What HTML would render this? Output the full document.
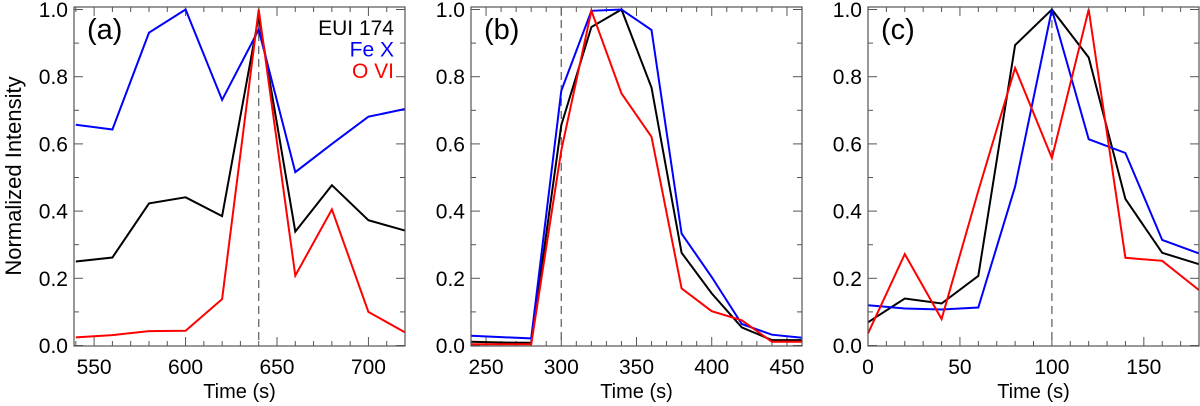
<!DOCTYPE html>
<html><head><meta charset="utf-8"><style>
html,body{margin:0;padding:0;background:#fff;}
svg{display:block;font-family:"Liberation Sans",sans-serif;}
</style></head><body>
<svg id="chart" width="1200" height="406" viewBox="0 0 1200 406">
<text x="0" y="0" transform="translate(21,176) rotate(-90)" text-anchor="middle" font-size="22" fill="#000">Normalized Intensity</text>
</svg>
<script>
const timesA = [540,560,580,600,620,640,660,680,700,720];
const euiA = [0.25,0.262,0.423,0.441,0.385,0.98,0.339,0.477,0.373,0.342];
const fexA = [0.657,0.643,0.931,1.0,0.731,0.94,0.516,0.60,0.681,0.704];
const oviA = [0.024,0.031,0.043,0.044,0.138,1.0,0.208,0.405,0.10,0.039];
const timesB = [240,260,280,300,320,340,360,380,400,420,440,460];
const euiB = [0.011,0.009,0.008,0.656,0.948,1.0,0.768,0.276,0.155,0.054,0.016,0.016];
const fexB = [0.029,0.025,0.021,0.758,0.996,1.0,0.939,0.333,0.204,0.064,0.032,0.023];
const oviB = [0.004,0.004,0.004,0.581,0.996,0.75,0.621,0.17,0.102,0.075,0.011,0.011];
const timesC = [0,20,40,60,80,100,120,140,160,180];
const euiC = [0.069,0.14,0.125,0.207,0.894,1.0,0.857,0.436,0.276,0.242];
const fexC = [0.12,0.11,0.107,0.113,0.473,1.0,0.614,0.573,0.314,0.274];
const oviC = [0.036,0.272,0.079,0.46,0.826,0.558,1.0,0.261,0.252,0.165];
const xTicksA = [550,600,650,700];
const xTicksB = [250,300,350,400,450];
const xTicksC = [0,50,100,150];
const yTicks = [0,0.2,0.4,0.6,0.8,1.0];
const peakTimes = [640,300,100];
const panelLabels = ['(a)','(b)','(c)'];
const legendNames = ['EUI 174','Fe X','O VI'];

const NS='http://www.w3.org/2000/svg';
const svg=document.getElementById('chart');
function mk(tag,attrs,parent){const e=document.createElementNS(NS,tag);for(const k in attrs)e.setAttribute(k,attrs[k]);(parent||svg).appendChild(e);return e;}
const colors=['#000','#0000ff','#ff0000'];
const panels=[
 {x0:74,dom:[539,720],t:timesA,s:[euiA,fexA,oviA],xt:xTicksA,minor:10,name:'a'},
 {x0:471,dom:[240,460],t:timesB,s:[euiB,fexB,oviB],xt:xTicksB,minor:10,name:'b'},
 {x0:868,dom:[0,180],t:timesC,s:[euiC,fexC,oviC],xt:xTicksC,minor:10,name:'c'}
];
const W=331, plotTop=7, plotBot=346;
const yScale=v=>345.5-v*336;
panels.forEach((p,i)=>{
  const xs=v=>p.x0+(v-p.dom[0])/(p.dom[1]-p.dom[0])*W;
  const g=mk('g',{});
  
  
  const tk=mk('g',{stroke:'#555','stroke-width':1},g);
  
  
  for(let v=Math.ceil(p.dom[0]/p.minor)*p.minor; v<=p.dom[1]; v+=p.minor){
    const x=xs(v); const major=p.xt.includes(v); const L=major?9:5;
    mk('line',{x1:x,x2:x,y1:plotBot,y2:plotBot-L},tk); mk('line',{x1:x,x2:x,y1:plotTop,y2:plotTop+L},tk);
  }
  for(let k=0;k<=10;k++){
    const y=yScale(k/10); const L=(k%2===0)?9:5;
    mk('line',{x1:p.x0,x2:p.x0+L,y1:y,y2:y},tk); mk('line',{x1:p.x0+W,x2:p.x0+W-L,y1:y,y2:y},tk);
  }
  const d=mk('line',{x1:xs(peakTimes[i]),x2:xs(peakTimes[i]),y1:plotTop,y2:plotBot,stroke:'#666','stroke-width':1.3,'stroke-dasharray':'8,5'},g);
  
  
  p.s.forEach((vals,j)=>{
    const pts=vals.map((v,k)=>xs(p.t[k]).toFixed(1)+','+yScale(v).toFixed(1)).join(' ');
    const pl=mk('polyline',{points:pts,fill:'none',stroke:colors[j],'stroke-width':2,'stroke-linejoin':'miter'},g);
    
    
  });
  const box=mk('rect',{x:p.x0,y:plotTop,width:W,height:plotBot-plotTop,fill:'none',stroke:'#555','stroke-width':1.2},g);
  
  
  yTicks.forEach(v=>{
    const t=mk('text',{x:p.x0-6,y:yScale(v)+7.5,'text-anchor':'end','font-size':21},g);
    t.textContent=v.toFixed(1);
    
    
  });
  p.xt.forEach(v=>{
    const t=mk('text',{x:xs(v),y:374,'text-anchor':'middle','font-size':21},g);
    t.textContent=v;
    
    
  });
  const xt=mk('text',{x:p.x0+W/2,y:398,'text-anchor':'middle','font-size':20},g);
  xt.textContent='Time (s)';
  
  
  const pl=mk('text',{x:p.x0+13,y:39,'font-size':29},g);
  pl.textContent=panelLabels[i];
  
  
  if(i===0){
    legendNames.forEach((n,j)=>{
      const t=mk('text',{x:p.x0+W-11,y:35+j*21.5,'text-anchor':'end','font-size':21,fill:colors[j]},g);
      t.textContent=n;
      
      
    });
  }
});
</script>
</body></html>
